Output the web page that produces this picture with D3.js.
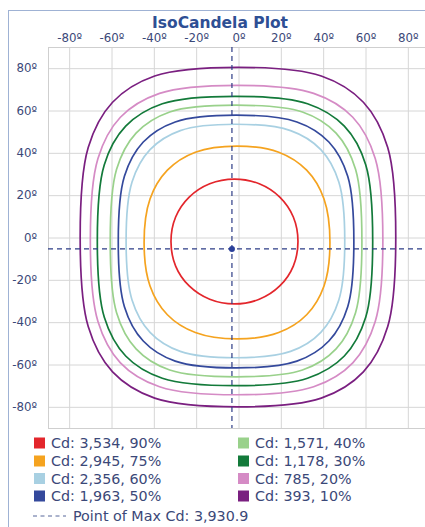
<!DOCTYPE html>
<html>
<head>
<meta charset="utf-8">
<script src="https://cdn.jsdelivr.net/npm/d3@7"></script>
<style>
  html, body { margin: 0; padding: 0; background: #fff; }
  svg { display: block; }
</style>
</head>
<body>
<div id="chart"></div>
<script>
// ---- data (degrees) ----
const xTicks = [-80, -60, -40, -20, 0, 20, 40, 60, 80];
const yTicks = [-80, -60, -40, -20, 0, 20, 40, 60, 80];
const chartTitle = "IsoCandela Plot";
const maxPoint = [-3.1, -5.4];
const maxLabel = "Point of Max Cd: 3,930.9";

const contourLabels = [
  "Cd: 3,534, 90%", "Cd: 2,945, 75%", "Cd: 2,356, 60%", "Cd: 1,963, 50%",
  "Cd: 1,571, 40%", "Cd: 1,178, 30%", "Cd: 785, 20%", "Cd: 393, 10%"
];
const contourColors = [
  "#e3262c", "#f5a31f", "#a8d0e2", "#34499c",
  "#99d18b", "#137a3a", "#d58bc5", "#7a1f80"
];

const contour90 = [[28.1,-1.9],[25.9,9.7],[19.5,19.1],[9.8,25.4],[-1.9,27.6],[-13.6,25.4],[-23.3,19.1],[-29.7,9.7],[-31.9,-1.9],[-29.7,-13.5],[-23.3,-22.9],[-13.6,-29.2],[-1.9,-31.4],[9.8,-29.2],[19.5,-22.9],[25.9,-13.5]];
const contour75 = [[43.2,-2.4],[40.4,18.2],[32.2,31.8],[19.0,40.3],[-0.7,43.2],[-20.4,40.3],[-33.6,31.8],[-41.8,18.2],[-44.6,-2.4],[-41.8,-22.9],[-33.6,-36.5],[-20.4,-44.9],[-0.7,-47.9],[19.0,-44.9],[32.2,-36.5],[40.4,-22.9]];
const contour60 = [[50.2,-1.7],[47.4,26.2],[38.9,41.5],[24.6,50.5],[-1.5,53.5],[-27.5,50.5],[-41.8,41.5],[-50.3,26.2],[-53.1,-1.7],[-50.3,-29.5],[-41.8,-44.8],[-27.5,-53.8],[-1.5,-56.8],[24.6,-53.8],[38.9,-44.8],[47.4,-29.5]];
const contour50 = [[54.5,-1.9],[51.6,28.9],[42.7,45.1],[27.6,54.6],[-1.2,57.8],[-29.9,54.6],[-45.0,45.1],[-53.9,28.9],[-56.8,-1.9],[-53.9,-32.7],[-45.0,-48.9],[-29.9,-58.4],[-1.2,-61.6],[27.6,-58.4],[42.7,-48.9],[51.6,-32.7]];
const contour40 = [[58.3,-1.7],[55.3,32.2],[46.1,49.3],[30.2,59.3],[-1.2,62.5],[-32.5,59.3],[-48.4,49.3],[-57.6,32.2],[-60.6,-1.7],[-57.6,-35.5],[-48.4,-52.6],[-32.5,-62.6],[-1.2,-65.8],[30.2,-62.6],[46.1,-52.6],[55.3,-35.5]];
const contour30 = [[63.4,-1.7],[60.1,34.4],[50.0,52.6],[32.6,63.2],[-1.7,66.7],[-36.0,63.2],[-53.3,52.6],[-63.4,34.4],[-66.7,-1.7],[-63.4,-37.7],[-53.3,-56.0],[-36.0,-66.5],[-1.7,-70.0],[32.6,-66.5],[50.0,-56.0],[60.1,-37.7]];
const contour20 = [[68.2,-1.2],[64.6,37.3],[54.0,56.8],[35.5,68.1],[-0.9,71.9],[-37.3,68.1],[-55.8,56.8],[-66.4,37.3],[-70.0,-1.2],[-66.4,-39.7],[-55.8,-59.2],[-37.3,-70.5],[-0.9,-74.3],[35.5,-70.5],[54.0,-59.2],[64.6,-39.7]];
const contour10 = [[74.3,0.2],[70.5,42.5],[59.0,63.9],[39.1,76.3],[-0.3,80.4],[-39.6,76.3],[-59.5,63.9],[-71.0,42.5],[-74.8,0.2],[-71.0,-42.1],[-59.5,-63.5],[-39.6,-75.9],[-0.3,-80.0],[39.1,-75.9],[59.0,-63.5],[70.5,-42.1]];
const contours = [contour90, contour75, contour60, contour50, contour40, contour30, contour20, contour10];

// ---- layout ----
const W = 425, H = 527;
const plot = { left: 48, top: 47, right: 429, bottom: 428 };
const textColor = "#3b4878";
const font = "'DejaVu Sans', Verdana, sans-serif";

const svg = d3.select("#chart").append("svg")
  .attr("width", W).attr("height", H)
  .style("font-family", font);

// outer frame
svg.append("rect")
  .attr("x", 8.5).attr("y", 10.5)
  .attr("width", W + 20).attr("height", H + 20)
  .attr("fill", "none").attr("stroke", "#9fb2d4").attr("stroke-width", 1);

const x = d3.scaleLinear().domain([-90, 90]).range([plot.left, plot.right]);
const y = d3.scaleLinear().domain([-90, 90]).range([plot.bottom, plot.top]);
const pw = plot.right - plot.left, ph = plot.bottom - plot.top;

// title
svg.append("text")
  .attr("x", 220).attr("y", 27.5)
  .attr("text-anchor", "middle")
  .attr("font-size", 15.5).attr("font-weight", "bold")
  .attr("fill", "#2e4f94")
  .text(chartTitle);

// axes + grid
const xAxis = svg.append("g")
  .attr("transform", `translate(0,${plot.top})`)
  .call(d3.axisTop(x).tickValues(xTicks).tickSize(-ph).tickPadding(5).tickFormat(d => d + "º"));
const yAxis = svg.append("g")
  .attr("transform", `translate(${plot.left},0)`)
  .call(d3.axisLeft(y).tickValues(yTicks).tickSize(-pw).tickPadding(11).tickFormat(d => d + "º"));
[xAxis, yAxis].forEach(g => {
  g.select(".domain").remove();
  g.selectAll(".tick line").attr("stroke", "#d6d6d6").attr("stroke-width", 1);
  g.selectAll(".tick text").attr("fill", textColor).attr("font-size", 11.8).style("font-family", font);
});

// plot border
svg.append("rect")
  .attr("x", plot.left + 0.5).attr("y", plot.top + 0.5)
  .attr("width", pw).attr("height", ph)
  .attr("fill", "none").attr("stroke", "#cfcfcf");

// contours
const line = d3.line().x(d => x(d[0])).y(d => y(d[1])).curve(d3.curveCatmullRomClosed.alpha(0.5));
svg.append("g").selectAll("path")
  .data(contours)
  .join("path")
  .attr("d", d => line(d))
  .attr("fill", "none")
  .attr("stroke", (d, i) => contourColors[i])
  .attr("stroke-width", 1.7);

// max point crosshair
const dashColor = "#2d3c86";
svg.append("line")
  .attr("x1", plot.left).attr("x2", plot.right)
  .attr("y1", y(maxPoint[1])).attr("y2", y(maxPoint[1]))
  .attr("stroke", dashColor).attr("stroke-width", 1.2).attr("stroke-dasharray", "5,4");
svg.append("line")
  .attr("y1", plot.top).attr("y2", plot.bottom)
  .attr("x1", x(maxPoint[0])).attr("x2", x(maxPoint[0]))
  .attr("stroke", dashColor).attr("stroke-width", 1.2).attr("stroke-dasharray", "5,4");
svg.append("circle")
  .attr("cx", x(maxPoint[0])).attr("cy", y(maxPoint[1]))
  .attr("r", 3).attr("fill", "#2a3f9a");

// legend
const legCols = [34, 238];
const legRows = [443, 461, 478.5, 496];
const leg = svg.append("g");
contourLabels.forEach((lab, i) => {
  const cx = legCols[Math.floor(i / 4)], cy = legRows[i % 4];
  leg.append("rect").attr("x", cx).attr("y", cy - 5.5).attr("width", 11).attr("height", 11)
    .attr("fill", contourColors[i]);
  leg.append("text").attr("x", cx + 17).attr("y", cy)
    .attr("dominant-baseline", "central")
    .attr("font-size", 14.3).attr("fill", textColor).text(lab);
});
leg.append("line").attr("x1", 33).attr("x2", 66).attr("y1", 516).attr("y2", 516)
  .attr("stroke", "#56679a").attr("stroke-width", 1).attr("stroke-dasharray", "4,3.5");
leg.append("text").attr("x", 73).attr("y", 516)
  .attr("dominant-baseline", "central")
  .attr("font-size", 14.3).attr("fill", textColor).text(maxLabel);
</script>
</body>
</html>
